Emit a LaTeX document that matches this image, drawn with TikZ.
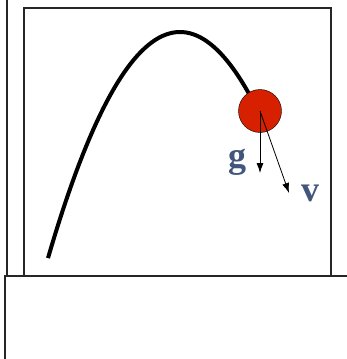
\documentclass[tikz,border=0pt]{standalone}
\usepackage{fontspec}
\setmainfont{Liberation Serif}
\usepackage{xcolor}
\usetikzlibrary{arrows.meta,positioning}
\definecolor{ballRed}{RGB}{214,32,0}
\definecolor{labelBlue}{RGB}{66,86,124}

\begin{document}
\begin{tikzpicture}[x=1pt,y=-1pt,
  frame/.style={draw=black!85,line width=1.4pt},
  vec/.style={-{Latex[length=10pt,width=7pt]},line width=0.8pt},
  lbl/.style={text=labelBlue,font=\bfseries\fontsize{36}{36}\selectfont,inner sep=0pt}
]
\useasboundingbox (0,0) rectangle (347,359);
% walls and table
\draw[frame] (7,0) -- (7,276);
\draw[frame] (24,276) -- (24,8) -- (331,8) -- (331,276);
\draw[frame] (4,276) -- (347,276);
\draw[frame] (5,276) -- (5,359);
% path of the ball
\draw[line width=4pt] plot[domain=48:252,samples=60] (\x,{32+(0.1139*(\x-180))^2});
\node[circle,draw,fill=ballRed,minimum size=43pt,inner sep=0pt] (ball) at (260,111) {};
\coordinate (gtip) at (260,173);
\coordinate (vtip) at (289,193);
\draw[vec] (ball.center) -- (gtip);
\draw[vec] (ball.center) -- (vtip);
\node[lbl] (g) at (237,162) {g};
\node[lbl] (v) at (310,193) {v};
\end{tikzpicture}
\end{document}
